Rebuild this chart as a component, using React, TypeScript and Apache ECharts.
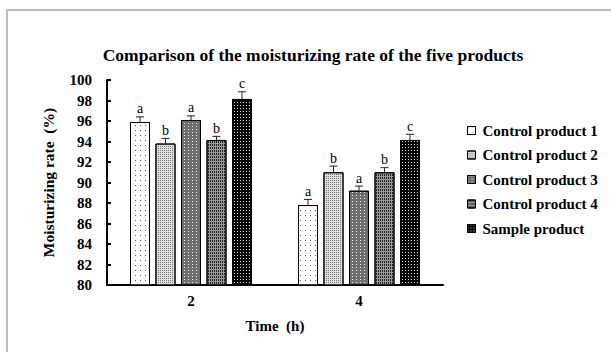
import React, { useEffect, useRef } from "react";
import * as echarts from "echarts";

const categories = ["2", "4"];
const seriesNames = ["Control product 1", "Control product 2", "Control product 3", "Control product 4", "Sample product"];
const means = [
  [95.9, 87.8],
  [93.8, 91.0],
  [96.1, 89.2],
  [94.15, 91.0],
  [98.15, 94.15],
];
const errors = [
  [0.5, 0.55],
  [0.5, 0.6],
  [0.4, 0.45],
  [0.35, 0.45],
  [0.7, 0.55],
];
const letters = [
  ["a", "a"],
  ["b", "b"],
  ["a", "a"],
  ["b", "b"],
  ["c", "c"],
];
const yTicks = { min: 80, max: 100, interval: 2 };

const FONT = "Liberation Serif";
const BAR_W = 20;
const BAR_GAP = 5.5;

const styles = [
  { color: "#ffffff", decal: { symbol: "rect", symbolSize: 1, color: "#555", dashArrayX: [1, 4], dashArrayY: [1, 4] } },
  { color: "#e0e0e0", decal: { symbol: "rect", symbolSize: 1, color: "#777", dashArrayX: [1, 1], dashArrayY: [1, 1] } },
  { color: "#6e6e6e", decal: { symbol: "rect", symbolSize: 1, color: "#eee", dashArrayX: [1, 3], dashArrayY: [1, 2] } },
  { color: "#9a9a9a", decal: { symbol: "rect", symbolSize: 1, color: "#222", dashArrayX: [1, 1], dashArrayY: [2, 1] } },
  { color: "#000000", decal: { symbol: "rect", symbolSize: 1, color: "#ddd", dashArrayX: [1, 2], dashArrayY: [1, 2] } },
];

export default function App() {
  const ref = useRef<HTMLDivElement>(null);
  useEffect(() => {
    if (!ref.current) return;
    const chart = echarts.init(ref.current, undefined, { renderer: "svg" });
    const n = seriesNames.length;
    const barSeries = seriesNames.map((name, i) => ({
      name,
      type: "bar",
      data: means[i],
      barWidth: BAR_W,
      barGap: (BAR_GAP / BAR_W) * 100 + "%",
      itemStyle: {
        color: styles[i].color,
        decal: styles[i].decal,
        borderColor: "#000",
        borderWidth: 1,
      },
    }));
    const errData: number[][] = [];
    for (let i = 0; i < n; i++) {
      for (let c = 0; c < categories.length; c++) {
        errData.push([c, means[i][c], errors[i][c], i]);
      }
    }
    const errSeries = {
      type: "custom",
      silent: true,
      z: 5,
      data: errData,
      encode: { x: 0, y: 1 },
      renderItem: (params: any, api: any) => {
        const c = api.value(0);
        const v = api.value(1);
        const e = api.value(2);
        const si = api.value(3);
        const offset = (si - (n - 1) / 2) * (BAR_W + BAR_GAP);
        const p0 = api.coord([c, v]);
        const p1 = api.coord([c, v + e]);
        const x = p0[0] + offset;
        return {
          type: "group",
          children: [
            { type: "line", shape: { x1: x, y1: p0[1], x2: x, y2: p1[1] }, style: { stroke: "#222", lineWidth: 1 } },
            { type: "line", shape: { x1: x - 4, y1: p1[1], x2: x + 4, y2: p1[1] }, style: { stroke: "#222", lineWidth: 1 } },
            {
              type: "text",
              x: x,
              y: p1[1] - 1,
              style: {
                text: letters[si][c],
                fontFamily: FONT,
                fontSize: 14,
                fill: "#000",
                align: "center",
                verticalAlign: "bottom",
              },
            },
          ],
        };
      },
    };
    chart.setOption({
      animation: false,
      backgroundColor: "#fff",
      title: {
        text: "Comparison of the moisturizing rate of the five products",
        left: 308,
        textAlign: "center",
        top: 41,
        textStyle: { fontFamily: FONT, fontSize: 17.5, fontWeight: "bold", color: "#000" },
      },
      legend: {
        orient: "vertical",
        left: 462,
        top: 117,
        itemWidth: 8,
        itemHeight: 8,
        itemGap: 7.5,
        icon: "rect",
        data: seriesNames,
        textStyle: { fontFamily: FONT, fontSize: 15, fontWeight: "bold", color: "#000", lineHeight: 17, padding: [0, 0, 0, 2] },
        itemStyle: { borderColor: "#000", borderWidth: 1 },
      },
      grid: { left: 107, right: 168, top: 80, bottom: 67 },
      xAxis: {
        type: "category",
        data: categories,
        name: "Time  (h)",
        nameLocation: "middle",
        nameGap: 33,
        nameTextStyle: { fontFamily: FONT, fontSize: 15, fontWeight: "bold", color: "#000" },
        axisLine: { lineStyle: { color: "#000", width: 2 } },
        axisTick: { inside: true, length: 4, lineStyle: { color: "#000", width: 2 } },
        axisLabel: { fontFamily: FONT, fontSize: 15, fontWeight: "bold", color: "#000", margin: 8 },
      },
      yAxis: {
        type: "value",
        min: yTicks.min,
        max: yTicks.max,
        interval: yTicks.interval,
        name: "Moisturizing rate  (%)",
        nameLocation: "middle",
        nameGap: 51,
        nameRotate: 90,
        nameTextStyle: { fontFamily: FONT, fontSize: 15.5, fontWeight: "bold", color: "#000" },
        axisLine: { show: true, lineStyle: { color: "#000", width: 2 } },
        axisTick: { show: true, inside: true, length: 4, lineStyle: { color: "#000", width: 2 } },
        axisLabel: { fontFamily: FONT, fontSize: 15, fontWeight: "bold", color: "#000", margin: 15 },
        splitLine: { show: false },
      },
      graphic: [
        {
          type: "rect",
          shape: { x: 7, y: 10, width: 800, height: 600 },
          style: { fill: "none", stroke: "#bdbdbd", lineWidth: 2 },
          silent: true,
        },
      ],
      series: [...barSeries, errSeries],
    });
    return () => chart.dispose();
  }, []);
  return <div ref={ref} style={{ position: "fixed", left: 0, top: 0, width: 611, height: 352 }} />;
}
